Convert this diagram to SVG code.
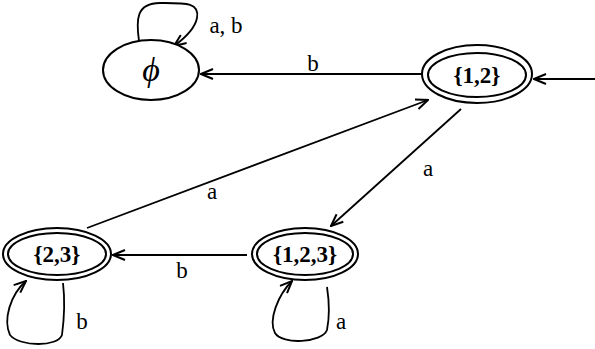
<svg xmlns="http://www.w3.org/2000/svg" width="595" height="349" viewBox="0 0 595 349">
<defs>
<marker id="arr" viewBox="0 0 14 12" refX="13" refY="6" markerWidth="14" markerHeight="12" markerUnits="userSpaceOnUse" orient="auto">
<polyline points="1,1 13,6 1,11" fill="none" stroke="#000" stroke-width="2"/>
</marker>
</defs>
<style>
.st{fill:#fff;stroke:#000;stroke-width:2}
.ed{fill:none;stroke:#000;stroke-width:1.8;marker-end:url(#arr)}
.nl{font-family:"Liberation Serif",serif;font-weight:bold;font-size:23px;text-anchor:middle}
.el{font-family:"Liberation Serif",serif;font-size:23px;text-anchor:middle}
</style>
<rect width="595" height="349" fill="#fff"/>
<g id="connectors">
<path class="ed" d="M139,41 C136,20 136,3 160,3 C185,3 200,2 197,18 C195,28 185,38 174,46"/>
<text class="el" x="226" y="33">a, b</text>
<line class="ed" x1="422" y1="74" x2="201" y2="74"/>
<text class="el" x="313" y="71">b</text>
<line class="ed" x1="595" y1="79" x2="534" y2="79"/>
<line class="ed" x1="461" y1="109" x2="331" y2="226"/>
<text class="el" x="428" y="176">a</text>
<line class="ed" x1="87" y1="228" x2="428" y2="100"/>
<text class="el" x="212" y="199">a</text>
<line class="ed" x1="247" y1="255" x2="113" y2="255"/>
<text class="el" x="182" y="278">b</text>
<path class="ed" d="M63,283 C65,300 64,320 62,335 C58,347 20,347 10,335 C3,320 10,295 26,281"/>
<text class="el" x="82" y="329">b</text>
<path class="ed" d="M327,287 C329,300 330,315 327,330 C322,343 282,345 275,333 C268,320 278,295 292,281"/>
<text class="el" x="341" y="329">a</text>
</g>
<g id="phi">
<ellipse class="st" cx="151" cy="70" rx="48" ry="30"/>
<text x="151" y="81" font-family="'Liberation Serif',serif" font-style="italic" font-size="34" text-anchor="middle">ϕ</text>
</g>
<g id="s12">
<ellipse class="st" cx="477" cy="74" rx="55" ry="29"/>
<ellipse class="st" cx="477" cy="75" rx="49" ry="22"/>
<text class="nl" x="477" y="83">{1,2}</text>
</g>
<g id="s23">
<ellipse class="st" cx="57" cy="254" rx="54" ry="26"/>
<ellipse class="st" cx="57" cy="254" rx="49" ry="21"/>
<text class="nl" x="57" y="262">{2,3}</text>
</g>
<g id="s123">
<ellipse class="st" cx="305" cy="254" rx="53" ry="26"/>
<ellipse class="st" cx="305" cy="254" rx="48" ry="21"/>
<text class="nl" x="305" y="262">{1,2,3}</text>
</g>
</svg>
